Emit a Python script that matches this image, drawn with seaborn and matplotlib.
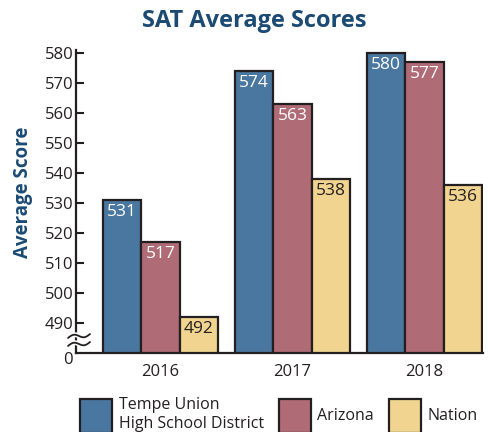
import numpy as np
import pandas as pd
import matplotlib
matplotlib.use("Agg")
import matplotlib.pyplot as plt
from matplotlib.patches import Patch
from matplotlib.transforms import ScaledTranslation
import seaborn as sns

# -----------------------------
# Data
# -----------------------------
years = ["2016", "2017", "2018"]
groups = ["Tempe Union\nHigh School District", "Arizona", "Nation"]
tempe = [531, 574, 580]
arizona = [517, 563, 577]
nation = [492, 538, 536]
colors = ["#4a77a0", "#b06c76", "#f0d490"]
label_colors = ["white", "white", "#231f20"]
ytick_vals = [480, 490, 500, 510, 520, 530, 540, 550, 560, 570, 580]
ytick_labels = ["0", "490", "500", "510", "520", "530", "540", "550", "560", "570", "580"]

df = pd.DataFrame({
    "Year": years * 3,
    "Group": [groups[0]] * 3 + [groups[1]] * 3 + [groups[2]] * 3,
    "Score": tempe + arizona + nation,
})

# -----------------------------
# Style
# -----------------------------
sns.set_style("white")
plt.rcParams["font.family"] = ["Open Sans", "DejaVu Sans"]
DARK = "#231f20"
NAVY = "#1b4a73"

fig = plt.figure(figsize=(4.88, 4.32), dpi=100)
ax = fig.add_axes([76 / 488, 79 / 432, 407 / 488, 303 / 432])

sns.barplot(data=df, x="Year", y="Score", hue="Group", hue_order=groups,
            palette=colors, saturation=1, edgecolor=DARK, linewidth=1.6,
            width=0.875, gap=0, legend=False, ax=ax)

ax.set_ylim(480, 581)
ax.set_xlim(-0.64, 2.443)
ax.set_yticks(ytick_vals)
ax.set_yticklabels(ytick_labels)
ax.tick_params(axis="y", left=True, direction="in", length=6, width=1.5, color=DARK,
               labelsize=12, labelcolor=DARK, pad=2)
ax.tick_params(axis="x", bottom=False, length=0, labelsize=12, labelcolor=DARK, pad=8)
ax.set_xlabel("")
ax.set_ylabel("Average Score", fontsize=13.5, fontweight="bold", color=NAVY)
ax.yaxis.set_label_coords(-0.106, 0.53)
for side in ["top", "right"]:
    ax.spines[side].set_visible(False)
for side in ["left", "bottom"]:
    ax.spines[side].set_color(DARK)
    ax.spines[side].set_linewidth(1.6)

# push the "0" label down below the break
zero_lbl = ax.get_yticklabels()[0]
zero_lbl.set_transform(zero_lbl.get_transform() + ScaledTranslation(0, -5 / 100, fig.dpi_scale_trans))
# hide the tick mark at the broken bottom
ax.yaxis.get_major_ticks()[0].tick1line.set_visible(False)

# value labels inside the top of each bar
for container, lc in zip(ax.containers, label_colors):
    for p in container:
        h = p.get_height()
        ax.annotate(f"{h:.0f}", (p.get_x() + p.get_width() / 2, h),
                    xytext=(0, -3), textcoords="offset points",
                    ha="center", va="top", fontsize=12.5, color=lc)

# axis break marks (decoration)
t = np.linspace(0, 1, 40)
bx = (-8 + 22 * t) / 407
wave = 2.2 * np.sin(2 * np.pi * t)
for y0 in (15, 7):
    ax.plot(bx, (y0 + wave + 4 * t) / 303, color="white", lw=3.5,
            transform=ax.transAxes, clip_on=False, zorder=5)
    ax.plot(bx, (y0 + wave + 4 * t) / 303, color=DARK, lw=1.3,
            transform=ax.transAxes, clip_on=False, zorder=6)

fig.text(254 / 488, 1 - 21 / 432, "SAT Average Scores", ha="center", va="center",
         fontsize=17, fontweight="bold", color=NAVY)

handles = [Patch(facecolor=c, edgecolor=DARK, linewidth=1.6) for c in colors]
fig.legend(handles, groups, loc="lower left", bbox_to_anchor=(66 / 488, -0.035),
           ncol=3, frameon=False, fontsize=11.5, handlelength=2.0, handleheight=2.9,
           handletextpad=0.4, columnspacing=0.95, labelspacing=0.2,
           labelcolor=DARK)

fig.savefig("out.png", dpi=100)
